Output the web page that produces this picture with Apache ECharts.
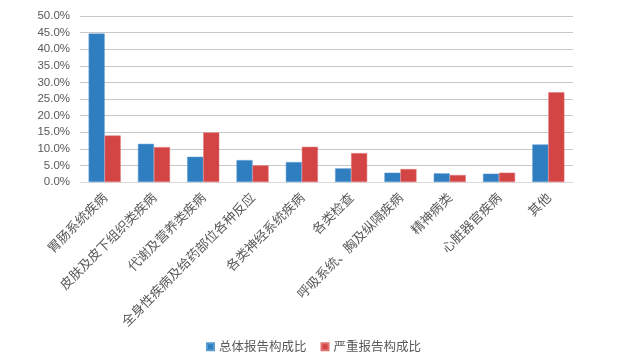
<!DOCTYPE html>
<html><head><meta charset="utf-8">
<script src="https://cdn.jsdelivr.net/npm/echarts@6/dist/echarts.min.js"></script>
<style>html,body{margin:0;padding:0;background:#fff}#c{width:627px;height:363px}</style>
</head><body><div id="c"></div>
<script>
const categories = ['胃肠系统疾病','皮肤及皮下组织类疾病','代谢及营养类疾病','全身性疾病及给药部位各种反应','各类神经系统疾病','各类检查','呼吸系统、胸及纵隔疾病','精神病类','心脏器官疾病','其他'];
const totalValues = [44.7, 11.5, 7.6, 6.6, 6.0, 4.1, 2.8, 2.6, 2.5, 11.3];
const seriousValues = [14.0, 10.5, 14.9, 5.0, 10.6, 8.7, 3.9, 2.1, 2.8, 27.0];
const seriesNames = ['总体报告构成比','严重报告构成比'];
const chart = echarts.init(document.getElementById('c'));
chart.setOption({
  animation:false,
  grid:{left:80,right:54,top:16,bottom:181,containLabel:false},
  legend:{bottom:5,left:'center',itemWidth:7,itemHeight:7,itemGap:14,icon:'rect',
    textStyle:{fontSize:12.5,color:'#595959',fontFamily:'Noto Sans CJK SC'},data:seriesNames},
  xAxis:{type:'category',data:categories,
    axisLine:{lineStyle:{color:'#d9d9d9'}},axisTick:{show:false},
    axisLabel:{rotate:45,fontSize:13,color:'#595959',margin:13,interval:0,fontFamily:'Noto Sans CJK SC'}},
  yAxis:{type:'value',min:0,max:50,interval:5,
    axisLine:{show:false},axisTick:{show:false},
    splitLine:{lineStyle:{color:'#c8c8c8'}},
    axisLabel:{formatter:v=>v.toFixed(1)+'%',fontSize:11.5,color:'#595959',margin:10,fontFamily:'Liberation Sans'}},
  series:[
    {name:seriesNames[0],type:'bar',data:totalValues,barGap:'0%',barCategoryGap:'35%',
      itemStyle:{color:'#2f7ec0',borderColor:'#5a9ad2',borderWidth:0.5}},
    {name:seriesNames[1],type:'bar',data:seriousValues,
      itemStyle:{color:'#d34545',borderColor:'#e07070',borderWidth:0.5}}
  ]
});
</script></body></html>
